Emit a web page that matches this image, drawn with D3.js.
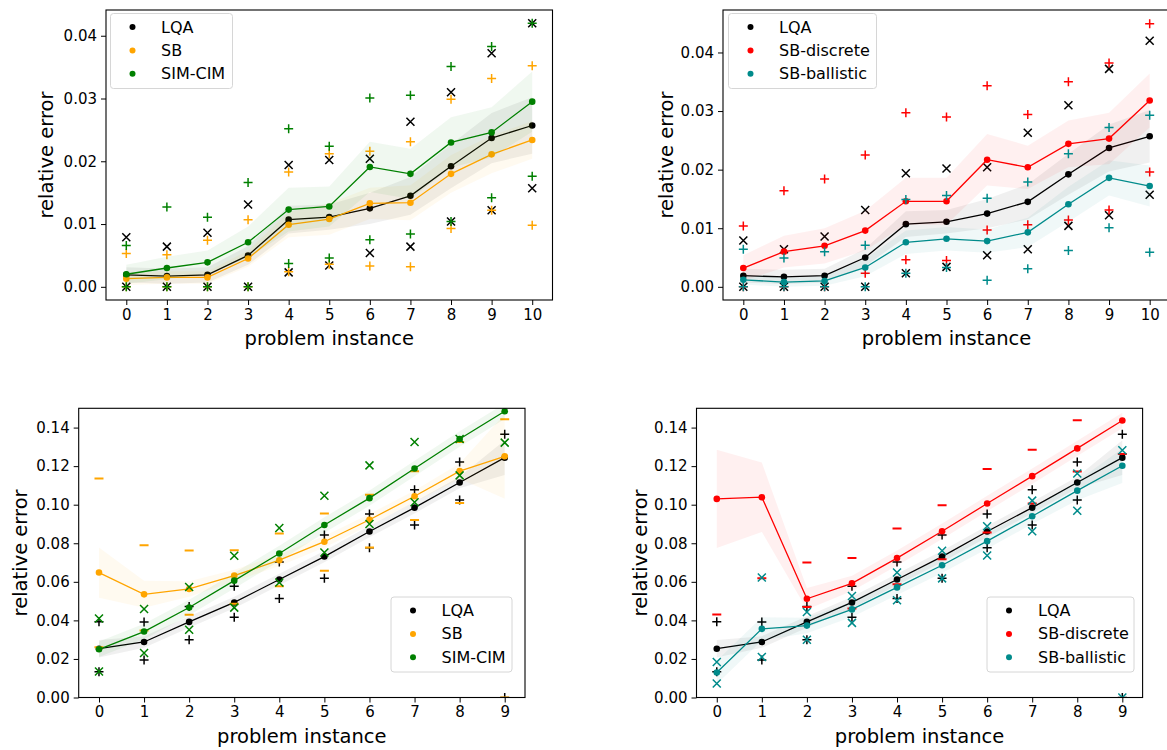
<!DOCTYPE html>
<html>
<head>
<meta charset="utf-8">
<script src="https://cdn.jsdelivr.net/npm/d3@7"></script>
<style>
  body { margin: 0; background: #fff; }
  svg { font-family: "DejaVu Sans", sans-serif; }
</style>
</head>
<body>
<svg id="chart" width="1167" height="750"></svg>
<script>
// ---- data ----
const topInstances = [0, 1, 2, 3, 4, 5, 6, 7, 8, 9, 10]
const bottomInstances = [0, 1, 2, 3, 4, 5, 6, 7, 8, 9]
const topTicks = [0, 0.01, 0.02, 0.03, 0.04]
const bottomTicks = [0, 0.02, 0.04, 0.06, 0.08, 0.10, 0.12, 0.14]

// top row (small instances)
const lqaTopMean = [0.0019, 0.0017, 0.0019, 0.0050, 0.0107, 0.0111, 0.0125, 0.0145, 0.0192, 0.0237, 0.0257]
const lqaTopSpread = [0.0012, 0.0012, 0.0012, 0.0015, 0.0022, 0.0020, 0.0025, 0.0030, 0.0035, 0.0040, 0.0045]
const lqaTopMax = [0.0079, 0.0064, 0.0086, 0.0131, 0.0194, 0.0202, 0.0204, 0.0263, 0.0310, 0.0372, 0.0420]
const lqaTopMin = [0, 0, 0, 0, 0.0023, 0.0034, 0.0054, 0.0064, 0.0104, 0.0122, 0.0157]

const sbTopMean = [0.0013, 0.0015, 0.0015, 0.0045, 0.0099, 0.0108, 0.0133, 0.0134, 0.0180, 0.0211, 0.0234]
const sbTopSpread = [0.0010, 0.0010, 0.0010, 0.0013, 0.0020, 0.0025, 0.0025, 0.0028, 0.0030, 0.0030, 0.0030]
const sbTopMax = [0.0053, 0.0051, 0.0074, 0.0107, 0.0183, 0.0212, 0.0216, 0.0231, 0.0299, 0.0332, 0.0352]
const sbTopMin = [0, 0, 0, 0, 0.0024, 0.0036, 0.0033, 0.0032, 0.0093, 0.0122, 0.0098]

const cimTopMean = [0.0020, 0.0030, 0.0039, 0.0071, 0.0123, 0.0128, 0.0191, 0.0180, 0.0230, 0.0246, 0.0295]
const cimTopSpread = [0.0015, 0.0018, 0.0019, 0.0025, 0.0035, 0.0032, 0.0040, 0.0040, 0.0040, 0.0040, 0.0048]
const cimTopMax = [0.0066, 0.0127, 0.0111, 0.0166, 0.0252, 0.0224, 0.0301, 0.0305, 0.0351, 0.0383, 0.0420]
const cimTopMin = [0, 0, 0, 0, 0.0037, 0.0046, 0.0075, 0.0084, 0.0104, 0.0142, 0.0176]

const sbdTopMean = [0.0032, 0.0060, 0.0070, 0.0096, 0.0146, 0.0146, 0.0217, 0.0204, 0.0244, 0.0253, 0.0318]
const sbdTopSpread = [0.0022, 0.0027, 0.0030, 0.0034, 0.0040, 0.0040, 0.0044, 0.0037, 0.0040, 0.0044, 0.0046]
const sbdTopMax = [0.0104, 0.0164, 0.0184, 0.0225, 0.0297, 0.0290, 0.0343, 0.0294, 0.0350, 0.0382, 0.0449]
const sbdTopMin = [0, 0, 0, 0.0023, 0.0046, 0.0045, 0.0097, 0.0106, 0.0114, 0.0131, 0.0196]

const sbbTopMean = [0.0012, 0.0008, 0.0010, 0.0033, 0.0076, 0.0082, 0.0078, 0.0093, 0.0141, 0.0186, 0.0172]
const sbbTopSpread = [0.0008, 0.0008, 0.0008, 0.0015, 0.0020, 0.0020, 0.0020, 0.0025, 0.0030, 0.0030, 0.0035]
const sbbTopMax = [0.0064, 0.0049, 0.0060, 0.0071, 0.0149, 0.0156, 0.0151, 0.0179, 0.0227, 0.0272, 0.0293]
const sbbTopMin = [0, 0, 0, 0, 0.0023, 0.0033, 0.0011, 0.0031, 0.0062, 0.0101, 0.0059]

// bottom row (large instances), null = outside the plotted range
const lqaBotMean = [0.0253, 0.0288, 0.0392, 0.0493, 0.0612, 0.0731, 0.0861, 0.0985, 0.1115, 0.1244]
const lqaBotSpread = [0.0045, 0.0030, 0.0030, 0.0030, 0.0030, 0.0030, 0.0030, 0.0030, 0.0030, 0.0090]
const lqaBotMax = [0.0393, 0.0391, 0.0472, 0.0577, 0.0703, 0.0843, 0.0952, 0.1077, 0.1221, 0.1365]
const lqaBotMin = [0.0134, 0.0195, 0.0300, 0.0416, 0.0514, 0.0618, 0.0777, 0.0895, 0.1024, 0]

const sbBotMean = [0.0648, 0.0535, 0.0563, 0.0632, 0.0712, 0.0808, 0.0922, 0.1044, 0.1174, 0.1251]
const sbBotSpread = [0.0130, 0.0070, 0.0040, 0.0030, 0.0030, 0.0030, 0.0030, 0.0030, 0.0040, 0.0220]
const sbBotMax = [0.1136, 0.0790, 0.0763, 0.0764, 0.0851, 0.0954, 0.1051, 0.1174, 0.1325, 0.1443]
const sbBotMin = [0.0260, 0.0347, 0.0429, 0.0486, 0.0577, 0.0657, 0.0778, 0.0921, 0.1009, 0]

const cimBotMean = [0.0250, 0.0342, 0.0467, 0.0606, 0.0747, 0.0895, 0.1034, 0.1188, 0.1341, 0.1485]
const cimBotSpread = [0.0040, 0.0040, 0.0040, 0.0040, 0.0040, 0.0040, 0.0040, 0.0040, 0.0040, 0.0040]
const cimBotMax = [0.0410, 0.0459, 0.0573, 0.0735, 0.0879, 0.1046, 0.1204, 0.1325, 0.1341, null]
const cimBotMin = [0.0135, 0.0231, 0.0351, 0.0466, 0.0596, 0.0752, 0.0900, 0.1013, 0.1152, 0.1322]

const sbdBotMean = [0.1030, 0.1039, 0.0512, 0.0592, 0.0723, 0.0862, 0.1006, 0.1148, 0.1292, 0.1437]
const sbdBotSpread = [0.0255, 0.0180, 0.0056, 0.0040, 0.0040, 0.0040, 0.0040, 0.0040, 0.0040, 0.0040]
const sbdBotMax = [null, null, 0.0700, 0.0724, 0.0877, 0.0997, 0.1185, 0.1285, 0.1438, null]
const sbdBotMin = [0.0431, 0.0618, 0.0469, 0.0462, 0.0587, 0.0717, 0.0856, 0.1006, 0.1172, 0.1263]

const sbbBotMean = [0.0130, 0.0356, 0.0373, 0.0457, 0.0571, 0.0686, 0.0811, 0.0940, 0.1073, 0.1202]
const sbbBotSpread = [0.0060, 0.0060, 0.0040, 0.0040, 0.0040, 0.0040, 0.0040, 0.0040, 0.0050, 0.0090]
const sbbBotMax = [0.0184, 0.0622, 0.0443, 0.0526, 0.0648, 0.0761, 0.0888, 0.1021, 0.1162, 0.1282]
const sbbBotMin = [0.0073, 0.0210, 0.0300, 0.0387, 0.0504, 0.0618, 0.0737, 0.0862, 0.0969, 0]

const BLACK = '#000000', ORANGE = '#ffa500', GREEN = '#008000', RED = '#ff0000', TEAL = '#008b8b'

const svg = d3.select('#chart')
svg.append('rect').attr('width', 1167).attr('height', 750).attr('fill', '#fff')

const markerPaths = {
    plus: 'M-4.5,0H4.5M0,-4.5V4.5',
    cross: 'M-4,-4L4,4M-4,4L4,-4',
    dash: 'M-4.5,0H4.5'
}

const panels = [
    {
        id: 'p1', left: 106, right: 552.5, top: 10, bottom: 300,
        xDomain: [-0.5, 10.5], yDomain: [-0.0021, 0.0441], xs: topInstances, yTicks: topTicks, fmt: '.2f',
        ylabelX: 46, xlabelY: 345, tickY: 319,
        legend: { x: 110.5, y: 13.5, w: 122, h: 75, dotX: 132.5, textX: 161 },
        series: [
            { name: 'LQA', color: BLACK, mean: lqaTopMean, spread: lqaTopSpread, max: lqaTopMax, min: lqaTopMin, marker: 'cross' },
            { name: 'SB', color: ORANGE, mean: sbTopMean, spread: sbTopSpread, max: sbTopMax, min: sbTopMin, marker: 'plus' },
            { name: 'SIM-CIM', color: GREEN, mean: cimTopMean, spread: cimTopSpread, max: cimTopMax, min: cimTopMin, marker: 'plus' }
        ]
    },
    {
        id: 'p2', left: 723, right: 1170, top: 10, bottom: 300,
        xDomain: [-0.5, 10.5], yDomain: [-0.00225, 0.04725], xs: topInstances, yTicks: topTicks, fmt: '.2f',
        ylabelX: 666, xlabelY: 345, tickY: 319,
        legend: { x: 728.5, y: 13.5, w: 148, h: 75, dotX: 750.5, textX: 779 },
        series: [
            { name: 'LQA', color: BLACK, mean: lqaTopMean, spread: lqaTopSpread, max: lqaTopMax, min: lqaTopMin, marker: 'cross' },
            { name: 'SB-discrete', color: RED, mean: sbdTopMean, spread: sbdTopSpread, max: sbdTopMax, min: sbdTopMin, marker: 'plus' },
            { name: 'SB-ballistic', color: TEAL, mean: sbbTopMean, spread: sbbTopSpread, max: sbbTopMax, min: sbbTopMin, marker: 'plus' }
        ]
    },
    {
        id: 'p3', left: 78.7, right: 525, top: 408.3, bottom: 697.5,
        xDomain: [-0.45, 9.45], yDomain: [0, 0.15], xs: bottomInstances, yTicks: bottomTicks, fmt: '.2f',
        ylabelX: 20, xlabelY: 743, tickY: 722,
        legend: { x: 391, y: 597, w: 121, h: 75, dotX: 413, textX: 441.5 },
        series: [
            { name: 'LQA', color: BLACK, mean: lqaBotMean, spread: lqaBotSpread, max: lqaBotMax, min: lqaBotMin, marker: 'plus' },
            { name: 'SB', color: ORANGE, mean: sbBotMean, spread: sbBotSpread, max: sbBotMax, min: sbBotMin, marker: 'dash' },
            { name: 'SIM-CIM', color: GREEN, mean: cimBotMean, spread: cimBotSpread, max: cimBotMax, min: cimBotMin, marker: 'cross' }
        ]
    },
    {
        id: 'p4', left: 696.5, right: 1142.6, top: 408.3, bottom: 697.5,
        xDomain: [-0.45, 9.45], yDomain: [0, 0.15], xs: bottomInstances, yTicks: bottomTicks, fmt: '.2f',
        ylabelX: 640, xlabelY: 743, tickY: 722,
        legend: { x: 987, y: 597, w: 147, h: 75, dotX: 1009, textX: 1038 },
        series: [
            { name: 'LQA', color: BLACK, mean: lqaBotMean, spread: lqaBotSpread, max: lqaBotMax, min: lqaBotMin, marker: 'plus' },
            { name: 'SB-discrete', color: RED, mean: sbdBotMean, spread: sbdBotSpread, max: sbdBotMax, min: sbdBotMin, marker: 'dash' },
            { name: 'SB-ballistic', color: TEAL, mean: sbbBotMean, spread: sbbBotSpread, max: sbbBotMax, min: sbbBotMin, marker: 'cross' }
        ]
    }
]

panels.forEach(drawPanel)

function drawPanel(cfg) {
    const x = d3.scaleLinear().domain(cfg.xDomain).range([cfg.left, cfg.right])
    const y = d3.scaleLinear().domain(cfg.yDomain).range([cfg.bottom, cfg.top])
    const g = svg.append('g').attr('id', cfg.id)

    g.append('clipPath').attr('id', 'clip-' + cfg.id)
        .append('rect')
        .attr('x', cfg.left).attr('y', cfg.top)
        .attr('width', cfg.right - cfg.left).attr('height', cfg.bottom - cfg.top)

    const plot = g.append('g').attr('clip-path', `url(#clip-${cfg.id})`)

    cfg.series.forEach(s => {
        const pts = cfg.xs.map((v, i) => ({ x: v, m: s.mean[i], sp: s.spread[i], hi: s.max[i], lo: s.min[i] }))

        // shaded spread
        plot.append('path')
            .datum(pts)
            .attr('d', d3.area().x(d => x(d.x)).y0(d => y(d.m - d.sp)).y1(d => y(d.m + d.sp)))
            .attr('fill', s.color)
            .attr('fill-opacity', 0.06)

        plot.append('path')
            .datum(pts)
            .attr('d', d3.line().x(d => x(d.x)).y(d => y(d.m)))
            .attr('fill', 'none')
            .attr('stroke', s.color)
            .attr('stroke-width', 1.3)

        plot.selectAll(null)
            .data(pts)
            .enter()
            .append('circle')
            .attr('cx', d => x(d.x))
            .attr('cy', d => y(d.m))
            .attr('r', 3.3)
            .attr('fill', s.color)

        const extremes = pts.flatMap(d => [{ x: d.x, v: d.hi }, { x: d.x, v: d.lo }]).filter(d => d.v !== null)
        plot.selectAll(null)
            .data(extremes)
            .enter()
            .append('path')
            .attr('transform', d => `translate(${x(d.x)},${y(d.v)})`)
            .attr('d', markerPaths[s.marker])
            .attr('fill', 'none')
            .attr('stroke', s.color)
            .attr('stroke-width', s.marker === 'dash' ? 2 : 1.5)
    })

    // axes
    const xAxis = g.append('g')
        .attr('transform', `translate(0,${cfg.bottom})`)
        .call(d3.axisBottom(x).tickValues(cfg.xs).tickSize(5).tickPadding(4).tickFormat(d3.format('d')))
    const yAxis = g.append('g')
        .attr('transform', `translate(${cfg.left},0)`)
        .call(d3.axisLeft(y).tickValues(cfg.yTicks).tickSize(5).tickPadding(4).tickFormat(d3.format(cfg.fmt)))
    ;[xAxis, yAxis].forEach(a => {
        a.select('.domain').remove()
        a.selectAll('.tick line').attr('stroke', '#000').attr('stroke-width', 1)
        a.selectAll('.tick text').attr('fill', '#000').style('font-size', '15px').style('font-family', '"DejaVu Sans"')
    })

    g.append('rect')
        .attr('x', cfg.left).attr('y', cfg.top)
        .attr('width', cfg.right - cfg.left).attr('height', cfg.bottom - cfg.top)
        .attr('fill', 'none').attr('stroke', '#000').attr('stroke-width', 1.1)

    g.append('text')
        .attr('x', (cfg.left + cfg.right) / 2)
        .attr('y', cfg.xlabelY)
        .attr('text-anchor', 'middle')
        .style('font-size', '19.5px')
        .text('problem instance')

    g.append('text')
        .attr('transform', `translate(${cfg.ylabelX},${(cfg.top + cfg.bottom) / 2}) rotate(-90)`)
        .attr('text-anchor', 'middle')
        .attr('dominant-baseline', 'central')
        .style('font-size', '19.5px')
        .text('relative error')

    // legend
    const L = cfg.legend
    const lg = g.append('g')
    lg.append('rect')
        .attr('x', L.x).attr('y', L.y).attr('width', L.w).attr('height', L.h)
        .attr('rx', 3)
        .attr('fill', '#fff').attr('fill-opacity', 0.8)
        .attr('stroke', '#d6d6d6').attr('stroke-width', 1)
    cfg.series.forEach((s, i) => {
        const cy = L.y + 13.5 + i * 23.4
        lg.append('circle').attr('cx', L.dotX).attr('cy', cy).attr('r', 3).attr('fill', s.color)
        lg.append('text')
            .attr('x', L.textX).attr('y', cy)
            .attr('dominant-baseline', 'central')
            .style('font-size', '16px')
            .text(s.name)
    })
}
</script>
</body>
</html>
